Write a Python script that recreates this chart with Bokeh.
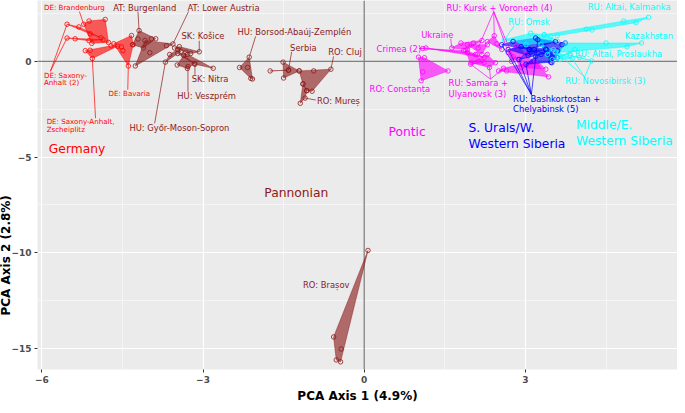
from bokeh.plotting import figure
from bokeh.models import FixedTicker, Span, Title
from bokeh.embed import file_html
from bokeh.resources import INLINE
from bokeh.core.properties import value

# ---------------- data: PCA scores (PC1, PC2) per population ----------------
# Germany
DE_BRANDENBURG = [(-5.22, 1.94), (-5.12, 2.11), (-4.82, 2.19), (-4.76, 0.99), (-5.07, 0.94)]
DE_SAXONY_ANHALT_A = [(-5.53, 1.94), (-5.31, 1.80), (-4.90, 1.23), (-5.10, 1.44)]
DE_SAXONY_ANHALT_B = [(-5.53, 1.22), (-5.38, 1.18), (-5.12, 1.08), (-4.86, 1.13)]
DE_ZSCHEIPLITZ = [(-5.06, 0.15), (-5.19, 0.56), (-5.10, 0.58), (-4.71, 0.81), (-4.59, 0.79)]
DE_BAVARIA = [(-4.39, -0.24), (-4.33, 1.35), (-4.52, 0.76), (-4.49, 0.56), (-4.66, 0.92), (-4.30, 0.87)]

# Pannonian
AT_BURGENLAND = [(-4.19, 1.61), (-3.96, 1.18), (-3.88, 1.18), (-4.11, 0.70), (-4.31, 0.87), (-4.21, 1.17)]
AT_LOWER_AUSTRIA = [(-3.56, 0.91), (-4.26, -0.24), (-3.99, 0.45), (-3.68, 0.82), (-4.08, 1.09)]
HU_GYOR = [(-3.70, -0.04), (-3.47, 0.62), (-3.41, 0.53), (-3.62, 0.36)]
SK_KOSICE = [(-3.07, 0.50), (-3.53, 0.70), (-3.32, 0.48), (-3.23, 0.41), (-3.44, 0.77)]
SK_NITRA = [(-3.15, -0.15), (-2.81, -0.36), (-3.47, 0.41), (-3.29, 0.36)]
HU_VESZPREM = [(-3.28, -0.27), (-3.29, -0.37), (-3.48, -0.19), (-3.36, 0.31), (-3.16, -0.12)]
HU_BORSOD = [(-2.14, 0.22), (-2.32, -0.32), (-2.17, -0.32), (-2.08, -0.92), (-2.11, -0.89)]
SERBIA = [(-1.51, -0.04), (-1.41, -0.46), (-1.21, -0.50), (-1.50, -0.87)]
SERBIA_B = [(-1.75, -0.50), (-1.41, -0.46)]
RO_CLUJ = [(-0.62, -0.41), (-0.94, -0.50), (-1.07, -1.53), (-0.97, -1.56), (-1.21, -0.50), (-1.14, -1.18)]
RO_MURES = [(-1.10, -1.92), (-1.19, -2.19), (-1.14, -1.18), (-1.07, -1.53)]
RO_BRASOV = [(0.07, -9.88), (-0.57, -14.40), (-0.43, -15.03), (-0.52, -15.60), (-0.44, -15.70)]

# Pontic
CRIMEA_A = [(1.09, 0.67), (1.92, 0.45), (1.85, 0.56)]
CRIMEA_B = [(1.15, 0.70), (2.23, 0.19), (2.10, 0.36)]
RO_CONSTANTA = [(1.01, 0.22), (1.12, 0.19), (1.56, -0.50), (1.09, -0.55), (1.06, -1.01)]
UKRAINE = [(1.63, 0.70), (1.80, 0.96), (2.03, 0.96), (2.19, 1.09), (1.92, 0.62)]
RU_KURSK_A = [(2.12, 0.70), (1.92, 0.87), (2.29, 0.87), (2.19, 0.36)]
RU_KURSK_B = [(2.42, 1.34), (2.56, 0.62), (2.29, 1.03), (2.47, 0.92)]
RU_VORONEZH_A = [(2.68, 0.45), (2.83, 0.87), (3.01, 0.36), (2.74, 0.00)]
RU_VORONEZH_B = [(2.77, 0.24), (3.19, 0.10), (3.38, -0.41), (2.92, -0.31)]
RU_SAMARA_A = [(1.98, -0.15), (1.89, 0.58), (2.07, 0.36), (2.23, -0.07)]
RU_SAMARA_B = [(2.33, -0.32), (1.99, -0.07), (2.44, -0.07), (2.29, 0.36)]
RU_ULYANOVSK = [(2.59, -0.36), (2.50, -0.50), (2.65, -0.50), (3.43, -0.81), (3.19, 0.00)]

# S. Urals / W. Western Siberia
RU_BASHKORTOSTAN_A = [(2.56, 0.87), (2.77, 1.04), (3.19, 1.22), (3.56, 1.03), (3.07, 0.62)]
RU_BASHKORTOSTAN_B = [(2.68, 0.62), (3.16, 0.62), (3.38, 0.65), (2.92, 0.77), (3.05, 0.30)]
RU_BASHKORTOSTAN_C = [(2.88, 0.10), (3.07, 0.62), (3.29, 0.36), (3.60, 0.55)]
RU_CHELYABINSK_A = [(3.01, -0.15), (3.47, -0.04), (3.59, 0.19), (3.19, 0.26), (3.40, 0.60)]
RU_CHELYABINSK_B = [(3.23, 1.13), (3.74, 0.96), (3.68, 0.87), (3.49, -0.07), (3.38, 0.62)]

# Middle / E. Western Siberia
RU_OMSK = [(2.61, 1.13), (3.10, 1.47), (3.35, 1.39), (3.47, 1.30), (3.01, 0.87), (3.60, 1.05)]
RU_ALTAI_KALMANKA = [(5.29, 2.30), (4.83, 2.11), (5.06, 2.02), (4.13, 1.68), (4.24, 1.64), (3.59, 1.34), (3.35, 1.39)]
KAZAKHSTAN = [(5.16, 0.96), (4.89, 0.76), (4.50, 0.96), (3.56, 0.45), (3.74, 0.96)]
RU_ALTAI_PROSLAUKHA = [(3.83, 0.40), (3.50, 0.10), (3.59, 0.19), (3.92, 0.62)]
RU_NOVOSIBIRSK_A = [(3.87, 0.15), (3.56, 0.51), (3.65, 0.10)]
RU_NOVOSIBIRSK_B = [(4.23, 0.02), (3.83, 0.31), (4.01, 0.21)]
RU_NOVOSIBIRSK_C = [(3.52, 0.62), (3.29, 0.87), (3.41, 0.36)]

GERMANY = [DE_BRANDENBURG, DE_SAXONY_ANHALT_A, DE_SAXONY_ANHALT_B, DE_ZSCHEIPLITZ, DE_BAVARIA]
PANNONIAN = [AT_BURGENLAND, AT_LOWER_AUSTRIA, HU_GYOR, SK_KOSICE, SK_NITRA, HU_VESZPREM,
             HU_BORSOD, SERBIA, SERBIA_B, RO_CLUJ, RO_MURES, RO_BRASOV]
PONTIC = [CRIMEA_A, CRIMEA_B, RO_CONSTANTA, UKRAINE, RU_KURSK_A, RU_KURSK_B, RU_VORONEZH_A,
          RU_VORONEZH_B, RU_SAMARA_A, RU_SAMARA_B, RU_ULYANOVSK]
URALS = [RU_BASHKORTOSTAN_A, RU_BASHKORTOSTAN_B, RU_BASHKORTOSTAN_C, RU_CHELYABINSK_A, RU_CHELYABINSK_B]
SIBERIA = [RU_OMSK, RU_ALTAI_KALMANKA, KAZAKHSTAN, RU_ALTAI_PROSLAUKHA,
           RU_NOVOSIBIRSK_A, RU_NOVOSIBIRSK_B, RU_NOVOSIBIRSK_C]

X_TICKS = [-6, -3, 0, 3]
Y_TICKS = [-15, -10, -5, 0]

C_GER = "#FF0000"
C_PAN = "#8B1A1A"
C_PON = "#FF00FF"
C_URA = "#0000FF"
C_SIB = "#00FFFF"

FONT = "DejaVu Sans"


def convex_hull(pts):
    pts = sorted(set(pts))
    if len(pts) <= 2:
        return pts

    def cross(o, a, b):
        return (a[0] - o[0]) * (b[1] - o[1]) - (a[1] - o[1]) * (b[0] - o[0])

    lower, upper = [], []
    for q in pts:
        while len(lower) >= 2 and cross(lower[-2], lower[-1], q) <= 0:
            lower.pop()
        lower.append(q)
    for q in reversed(pts):
        while len(upper) >= 2 and cross(upper[-2], upper[-1], q) <= 0:
            upper.pop()
        upper.append(q)
    return lower[:-1] + upper[:-1]


p = figure(width=677, height=405, x_range=(-6.08, 5.83), y_range=(-16.1, 3.18),
           output_backend="svg", toolbar_location=None,
           min_border_left=0, min_border_right=0, min_border_top=0, min_border_bottom=0)
p.background_fill_color = "#EBEBEB"
p.border_fill_color = "white"
p.outline_line_color = None

p.xaxis.ticker = FixedTicker(ticks=X_TICKS, minor_ticks=[-4.5, -1.5, 1.5, 4.5])
p.yaxis.ticker = FixedTicker(ticks=Y_TICKS, minor_ticks=[-12.5, -7.5, -2.5, 2.5])
for g in (p.xgrid, p.ygrid):
    g.grid_line_color = "white"
    g.grid_line_width = 1.2
    g.minor_grid_line_color = "white"
    g.minor_grid_line_width = 0.5

for ax in (p.xaxis, p.yaxis):
    ax.axis_line_color = None
    ax.major_tick_line_color = "#333333"
    ax.major_tick_out = 3
    ax.major_tick_in = 0
    ax.minor_tick_line_color = None
    ax.major_label_text_font = FONT
    ax.major_label_text_font_size = "9px"
    ax.major_label_text_font_style = "bold"
    ax.major_label_text_color = "#4D4D4D"
    ax.major_label_standoff = 2

p.yaxis.axis_label = None
p.yaxis.axis_label_standoff = 0

p.xaxis.axis_label = "PCA Axis 1 (4.9%)"
p.xaxis.axis_label_text_font = FONT
p.xaxis.axis_label_text_font_size = "12px"
p.xaxis.axis_label_text_font_style = "bold"
p.xaxis.axis_label_text_color = "black"
p.xaxis.axis_label_standoff = 3

p.add_layout(Title(text="PCA Axis 2 (2.8%)", align="left", offset=54, standoff=-8,
                   vertical_align="bottom", text_font=FONT, text_font_size="12px",
                   text_font_style="bold", text_color="black"), "left")

p.add_layout(Span(location=0, dimension="height", line_color="#808080", line_width=1.3, level="underlay"))
p.add_layout(Span(location=0, dimension="width", line_color="#808080", line_width=1.3, level="underlay"))

groups = [(GERMANY, C_GER), (PANNONIAN, C_PAN), (PONTIC, C_PON), (URALS, C_URA), (SIBERIA, C_SIB)]
for pops, col in groups:
    xs, ys = [], []
    for pop in pops:
        h = convex_hull(pop)
        xs.append([q[0] for q in h])
        ys.append([q[1] for q in h])
    p.patches(xs, ys, fill_color=col, fill_alpha=0.62, line_color=col, line_alpha=0.65, line_width=0.7)

for pops, col in groups:
    px = [q[0] for pop in pops for q in pop]
    py = [q[1] for pop in pops for q in pop]
    p.scatter(px, py, marker="circle", size=4.5, fill_color=None, line_color=col, line_width=0.8)

# population labels (text, x, y) and leader segments
labels = {
    C_GER: [("DE: Brandenburg", -5.96, 2.81), ("DE: Saxony-", -5.96, -0.72), ("Anhalt (2)", -5.96, -1.10),
            ("DE: Bavaria", -4.76, -1.66), ("DE: Saxony-Anhalt,", -5.91, -3.15), ("Zscheiplitz", -5.91, -3.55)],
    C_PAN: [("AT: Burgenland", -4.67, 2.81), ("AT: Lower Austria", -3.29, 2.81), ("SK: Košice", -3.40, 1.30),
            ("SK: Nitra", -3.21, -0.92), ("HU: Veszprém", -3.48, -1.81), ("HU: Győr-Moson-Sopron", -4.37, -3.46),
            ("HU: Borsod-Abaúj-Zemplén", -2.36, 1.53), ("Serbia", -1.38, 0.72), ("RO: Cluj", -0.67, 0.48),
            ("RO: Mureș", -0.88, -2.07), ("RO: Brașov", -1.14, -11.67)],
    C_PON: [("Crimea (2)", 0.23, 0.67), ("Ukraine", 1.06, 1.40), ("RO: Constanța", 0.10, -1.47),
            ("RU: Kursk + Voronezh (4)", 1.53, 2.81), ("RU: Samara +", 1.57, -1.15), ("Ulyanovsk (3)", 1.57, -1.69)],
    C_URA: [("RU: Bashkortostan +", 2.77, -1.95), ("Chelyabinsk (5)", 2.77, -2.47)],
    C_SIB: [("RU: Omsk", 2.68, 2.07), ("RU: Altai, Kalmanka", 4.16, 2.84), ("Kazakhstan", 4.85, 1.34),
            ("RU: Altai, Proslaukha", 3.92, 0.40), ("RU: Novosibirsk (3)", 3.74, -1.04)],
}
label_size = {C_GER: "7.1px", C_PAN: "8.4px", C_PON: "8.4px", C_URA: "8.4px", C_SIB: "8.4px"}
leaders = {
    C_GER: [(-5.30, 2.60, -5.22, 1.94), (-5.84, -0.52, -5.53, 1.94), (-5.84, -0.52, -5.53, 1.22),
            (-4.40, -1.48, -4.39, -0.24), (-5.00, -2.97, -5.06, 0.15)],
    C_PAN: [(-4.21, 2.60, -4.19, 1.61), (-3.27, 2.60, -3.56, 0.91), (-3.07, 1.08, -3.07, 0.50),
            (-3.15, -0.70, -3.15, -0.15), (-3.28, -1.59, -3.28, -0.27), (-3.90, -3.24, -3.70, -0.04),
            (-2.02, 1.31, -2.14, 0.22), (-1.35, 0.50, -1.41, -0.46), (-0.57, 0.26, -0.62, -0.41),
            (-0.90, -2.02, -1.10, -1.92)],
    C_PON: [(1.02, 0.67, 1.09, 0.67), (1.02, 0.67, 1.15, 0.70), (1.61, 1.18, 1.63, 0.70),
            (2.41, 2.60, 2.12, 0.70), (2.41, 2.60, 2.42, 1.34), (2.41, 2.60, 2.68, 0.45), (2.41, 2.60, 2.77, 0.24),
            (2.35, -0.93, 1.98, -0.15), (2.35, -0.93, 2.33, -0.32), (2.35, -0.93, 2.59, -0.36)],
    C_URA: [(3.11, -1.73, 2.56, 0.87), (3.11, -1.73, 2.68, 0.62), (3.11, -1.73, 2.88, 0.10),
            (3.11, -1.73, 3.01, -0.15), (3.11, -1.73, 3.23, 1.13)],
    C_SIB: [(2.79, 1.85, 2.61, 1.13), (4.10, -0.82, 3.87, 0.15), (4.10, -0.82, 4.23, 0.02),
            (4.10, -0.82, 3.52, 0.62)],
}
for col, segs in leaders.items():
    p.segment([s[0] for s in segs], [s[1] for s in segs], [s[2] for s in segs], [s[3] for s in segs],
              line_color=col, line_width=0.7)
for col, labs in labels.items():
    p.text([l[1] for l in labs], [l[2] for l in labs], text=[l[0] for l in labs],
           text_font=value(FONT), text_font_size=value(label_size[col]), text_color=col,
           text_align="left", text_baseline="middle")

regions = [("Germany", -5.87, -4.56, C_GER), ("Pannonian", -1.86, -6.88, C_PAN), ("Pontic", 0.45, -3.70, C_PON),
           ("S. Urals/W.", 1.94, -3.49, C_URA), ("Western Siberia", 1.94, -4.30, C_URA),
           ("Middle/E.", 3.94, -3.32, C_SIB), ("Western Siberia", 3.94, -4.14, C_SIB)]
p.text([r[1] for r in regions], [r[2] for r in regions], text=[r[0] for r in regions],
       text_font=value(FONT), text_font_size=value("12.3px"), text_color=[r[3] for r in regions],
       text_align="left", text_baseline="middle")

open("out.html", "w").write(file_html(p, INLINE))
